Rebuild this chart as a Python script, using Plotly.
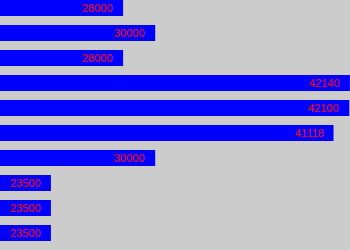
import plotly.graph_objects as go

values = [28000, 30000, 28000, 42140, 42100, 41118, 30000, 23500, 23500, 23500]
labels = ["28000", "30000", "28000", "42140", "42100", "41118", "30000", "23500", "23500", "23500"]
positions = list(range(len(values)))

fig = go.Figure()
fig.add_trace(go.Bar(
    x=values, y=positions, orientation="h",
    marker=dict(color="#0000ff", line=dict(width=0)),
    hoverinfo="skip",
))

for v, p, t in zip(values, positions, labels):
    fig.add_annotation(
        x=v, y=p, text=t, showarrow=False, xanchor="right", yanchor="middle",
        xshift=-8, font=dict(family="Liberation Sans, Arial, sans-serif", size=11, color="#ff0000"),
    )

fig.update_layout(
    width=350, height=250,
    margin=dict(l=0, r=0, t=0, b=0),
    paper_bgcolor="#cccccc", plot_bgcolor="#cccccc",
    bargap=0.36, showlegend=False,
    xaxis=dict(range=[20325, 42145], visible=False, showgrid=False, zeroline=False),
    yaxis=dict(range=[9.68, -0.32], visible=False, showgrid=False, zeroline=False),
)

fig.write_html("out.html", config={"displayModeBar": False})
